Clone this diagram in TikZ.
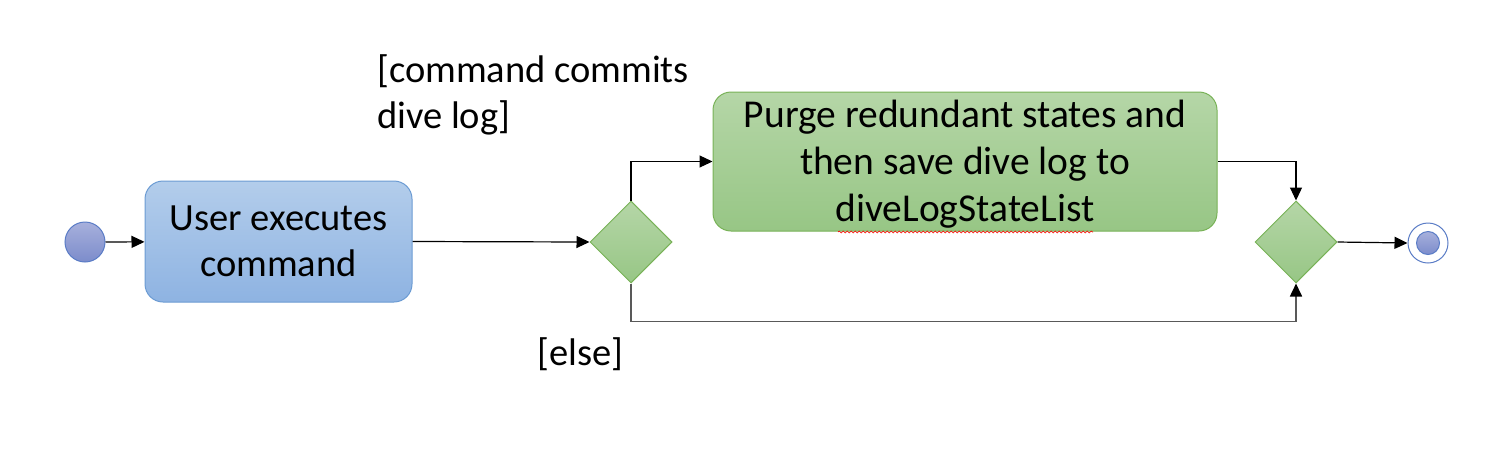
\documentclass[tikz,border=0pt]{standalone}
\usepackage{fontspec}
\setmainfont{Carlito}
\usetikzlibrary{shapes.geometric,arrows.meta,decorations.pathmorphing}
\definecolor{bluetop}{HTML}{B3CDEB}
\definecolor{bluebot}{HTML}{8EB3E2}
\definecolor{blueline}{HTML}{6B9BD3}
\definecolor{greentop}{HTML}{B5D6A7}
\definecolor{greenbot}{HTML}{97C685}
\definecolor{greenline}{HTML}{78B257}
\definecolor{circtop}{HTML}{A7B0DC}
\definecolor{circbot}{HTML}{7C8CCB}
\definecolor{circline}{HTML}{5A7CC6}
\begin{document}
\begin{tikzpicture}[x=1pt,y=-1pt,
  txt/.style={font=\fontsize{38.5}{46}\selectfont},
  gtxt/.style={font=\fontsize{39.5}{47}\selectfont},
  actbox/.style={rounded corners=18pt, draw=#1line, line width=1pt, top color=#1top, bottom color=#1bot, align=center, inner sep=0pt},
  decision/.style={diamond, draw=greenline, line width=1pt, top color=greentop, bottom color=greenbot, minimum width=82pt, minimum height=82pt, inner sep=0pt},
  flow/.style={draw=black, line width=1.2pt, -{Triangle[length=13pt,width=12pt,color=black]}},
  lbl/.style={txt, align=left, anchor=north west, inner sep=0pt}
]
\useasboundingbox (0,0) rectangle (1509,459);

\node[circle, draw=circline, line width=1pt, top color=circtop, bottom color=circbot, minimum size=40pt, inner sep=0pt] (start) at (85,242) {};

\node[actbox=blue, txt, minimum width=267pt, minimum height=121pt] (user) at (278.5,241.5) {User executes\\command};

\node[decision] (d1) at (631,242) {};

\node[actbox=green, gtxt, minimum width=504pt, minimum height=139pt] (purge) at (965,161.5) {\raisebox{0pt}[\dimexpr\height+6pt\relax][\depth]{Purge redundant states and}\\then save dive log to\\diveLogStateList};

\node[decision] (d2) at (1296,242) {};

\node[circle, draw=circline, line width=1pt, fill=white, minimum size=40pt, inner sep=0pt] (endo) at (1428,243) {};
\node[circle, draw=circline, line width=1pt, top color=circtop, bottom color=circbot, minimum size=23pt, inner sep=0pt] (endi) at (endo.center) {};

\draw[flow] (start) -- (user);
\draw[flow] (user.east) -- (d1.west);
\draw[flow] (d1.north) |- (purge.west);
\draw[flow] (purge.east) -| (d2.north);
\draw[flow, draw=black!65, line width=1.6pt] (d1.south) -- ++(0,38) -| (d2.south);
\draw[flow] (d2.east) -- (endo.west);

\node[lbl] (guard1) at (377,54) {[command commits\\dive log]};
\node[lbl] (guard2) at (537,337) {[else]};

\coordinate (sq1) at (838,232);
\coordinate (sq2) at (1093,232);
\draw[red, line width=0.6pt, decorate, decoration={snake, amplitude=1pt, segment length=4pt}] (sq1) -- (sq2);
\end{tikzpicture}
\end{document}
